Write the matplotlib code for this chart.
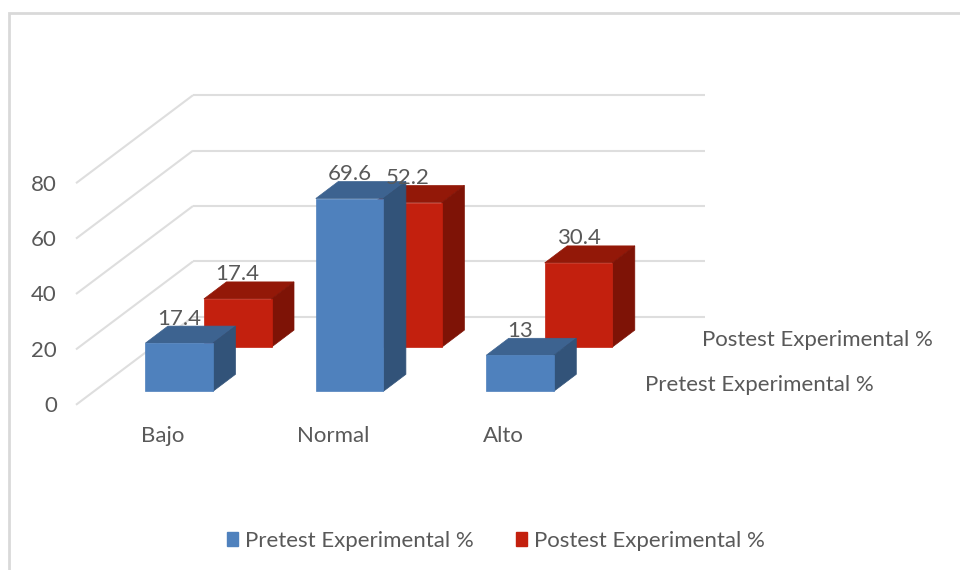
import matplotlib
matplotlib.use("Agg")
import matplotlib.pyplot as plt
from matplotlib.patches import Polygon, Patch
from matplotlib.lines import Line2D

categories = ["Bajo", "Normal", "Alto"]
series_names = ["Pretest Experimental %", "Postest Experimental %"]
pretest = [17.4, 69.6, 13]
postest = [17.4, 52.2, 30.4]
y_ticks = [0, 20, 40, 60, 80]

plt.rcParams["font.family"] = ["Lato", "DejaVu Sans"]
W, H = 960, 570
TEXT = "#595959"
FS = 16
PX_X, PX_Y = 170.4, 2.77      # pixels per category / per value unit
X0, Y0 = 179.2, 391.3         # pixel of category 0 centre and value 0 on the front plane

fig = plt.figure(figsize=(W / 100, H / 100), dpi=100)
ax = fig.add_axes([0, 0, 1, 1])
ax.set_xlim(-X0 / PX_X, (W - X0) / PX_X)
ax.set_ylim((Y0 - H) / PX_Y, Y0 / PX_Y)
ax.axis("off")


def P(cat, val, dx=0, dy=0):
    """category/value plus a pixel offset (right, down) -> data coordinates"""
    return (cat + dx / PX_X, val - dy / PX_Y)


# chart frame
ax.add_line(Line2D([8.5 / W, 8.5 / W, 1], [0, 1 - 13 / H, 1 - 13 / H], transform=ax.transAxes,
                   color="#D9D9D9", lw=2.0, solid_joinstyle="miter"))

# walls: gridlines
WALL_DY = -74.5
SIDE_DX, SIDE_DY = -117, 88
corner_x = (193 - X0) / PX_X
right_x = (705 - X0) / PX_X
for t in y_ticks:
    cy = P(0, t, 0, WALL_DY)[1]
    ax.plot([corner_x, right_x], [cy, cy], color="#DEDEDE", lw=1.5, solid_capstyle="butt", zorder=1)
    ax.plot([corner_x + SIDE_DX / PX_X, corner_x], [cy - SIDE_DY / PX_Y, cy],
            color="#DEDEDE", lw=1.5, solid_capstyle="butt", zorder=1)

# bars
BAR_W = 67.6
D_X, D_Y = 22.5, -17
SER_DX, SER_DY = 58.5, -44.2
FACE = [("#4F81BD", "#3D6390", "#325379"), ("#C3200E", "#931808", "#7E1306")]


def bar(cat, val, s, z):
    front, top, side = FACE[s]
    ox, oy = SER_DX * s - BAR_W / 2, SER_DY * s
    a = P(cat, 0, ox, oy)
    b = P(cat, 0, ox + BAR_W, oy)
    c = P(cat, val, ox + BAR_W, oy)
    d = P(cat, val, ox, oy)
    bd = P(cat, 0, ox + BAR_W + D_X, oy + D_Y)
    cd = P(cat, val, ox + BAR_W + D_X, oy + D_Y)
    dd = P(cat, val, ox + D_X, oy + D_Y)
    ax.add_patch(Polygon([d, c, cd, dd], fc=top, ec=top, lw=0.5, zorder=z))
    ax.add_patch(Polygon([b, bd, cd, c], fc=side, ec=side, lw=0.5, zorder=z))
    ax.add_patch(Polygon([a, b, c, d], fc=front, ec=front, lw=0.5, zorder=z))
    lx, ly = P(cat, val, ox + BAR_W / 2, oy - 24.5)
    ax.text(lx, ly, f"{val:g}", ha="center", va="center", fontsize=FS, color=TEXT, zorder=10)


for i, v in enumerate(postest):
    bar(i, v, 1, 3)
for i, v in enumerate(pretest):
    bar(i, v, 0, 4)

# value axis labels
for t in y_ticks:
    x, y = P(0, t, 57 - X0, 15)
    ax.text(x, y, str(t), ha="right", va="center", fontsize=FS, color=TEXT)

# category labels
for i, name in enumerate(categories):
    x, y = P(i, 0, -16.5, 45)
    ax.text(x, y, name, ha="center", va="center", fontsize=FS, color=TEXT)

# series (depth axis) labels
for s, name in enumerate(series_names):
    x, y = P(0, 0, 645 - X0 + 57.5 * s, -6.5 - 45 * s)
    ax.text(x, y, name, ha="left", va="center", fontsize=FS, color=TEXT)

# legend
handles = [Patch(fc=FACE[0][0], ec=FACE[0][0]), Patch(fc=FACE[1][0], ec=FACE[1][0])]
ax.legend(handles, series_names, loc="center", bbox_to_anchor=(496 / W, 1 - 541 / H),
          ncol=2, frameon=False, fontsize=FS, labelcolor=TEXT, handlelength=0.5,
          handleheight=0.55, handletextpad=0.33, columnspacing=1.9, borderpad=0)

fig.savefig("out.png", dpi=100)
